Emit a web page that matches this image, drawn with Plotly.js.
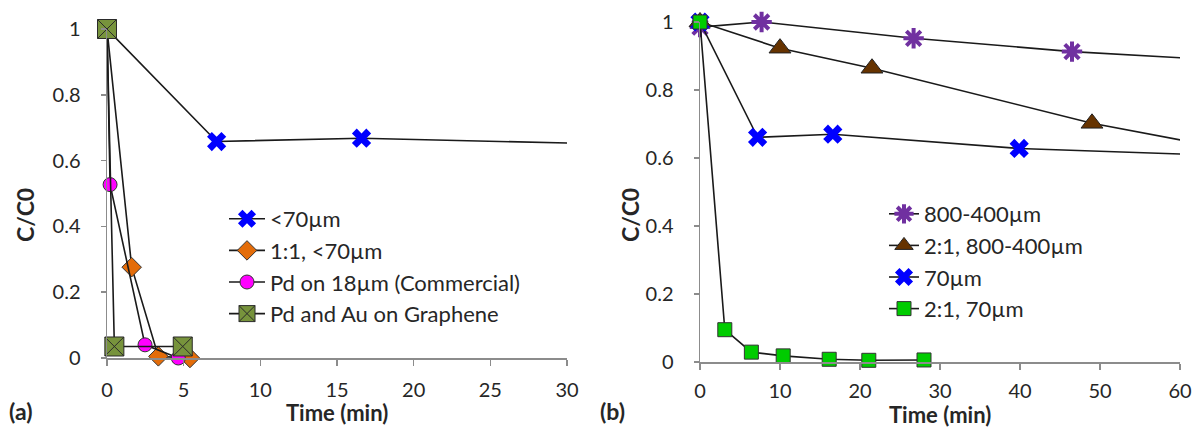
<!DOCTYPE html>
<html>
<head>
<meta charset="utf-8">
<script src="https://cdn.plot.ly/plotly-3.0.1.min.js"></script>
<style>html,body{margin:0;padding:0;background:#fff;}#chart{width:1195px;height:427px;}</style>
</head>
<body>
<div id="chart"></div>
<script>
// ---------- Panel (a) data ----------
const a_lt70_t   = [0, 7.15, 16.6, 39.9, 90];
const a_lt70_c   = [1, 0.658, 0.668, 0.628, 0.588];
const a_11_t     = [0, 1.61, 3.35, 5.41];
const a_11_c     = [1, 0.276, 0.005, 0.0];
const a_pd18_t   = [0, 0.2, 2.48, 4.65];
const a_pd18_c   = [1, 0.527, 0.04, 0.0];
const a_graph_t  = [0, 0.48, 4.94];
const a_graph_c  = [1, 0.035, 0.035];
const a_names    = ["<70µm", "1:1, <70µm", "Pd on 18µm (Commercial)", "Pd and Au on Graphene"];

// ---------- Panel (b) data ----------
const b_800_t    = [0, 7.7, 26.7, 46.5, 90];
const b_800_c    = [0.985, 1.0, 0.952, 0.913, 0.855];
const b_21_800_t = [0, 10.0, 21.5, 49.0, 90];
const b_21_800_c = [1.0, 0.923, 0.864, 0.702, 0.52];
const b_70_t     = [0, 7.2, 16.6, 39.9, 90];
const b_70_c     = [1.0, 0.661, 0.670, 0.628, 0.588];
const b_21_70_t  = [0, 3.1, 6.42, 10.4, 16.15, 21.1, 28.0];
const b_21_70_c  = [1.0, 0.095, 0.029, 0.018, 0.008, 0.005, 0.006];
const b_names    = ["800-400µm", "2:1, 800-400µm", "70µm", "2:1, 70µm"];

const xTicksA = [0, 5, 10, 15, 20, 25, 30];
const xTicksB = [0, 10, 20, 30, 40, 50, 60];
const yTicks  = [0, 0.2, 0.4, 0.6, 0.8, 1];
const yTickText = ["0", "0.2", "0.4", "0.6", "0.8", "1"];

const FONT = "Lato, 'Open Sans', sans-serif";
const TXT = "#262626";
const LINE = {color: "#1a1a1a", width: 1.6};

function tr(x, y, name, xa, ya, legend, marker) {
  return {x: x, y: y, name: name, type: "scatter", mode: "lines+markers",
          xaxis: xa, yaxis: ya, legend: legend, line: LINE, marker: marker,
          cliponaxis: false};
}

const data = [
  tr(a_lt70_t, a_lt70_c, a_names[0], "x", "y", "legend",
     {symbol: "x", size: 17, color: "#0000ff", line: {width: 0}}),
  tr(a_11_t, a_11_c, a_names[1], "x", "y", "legend",
     {symbol: "diamond", size: 15, color: "#e36c09", line: {color: "#333", width: 1}}),
  tr(a_pd18_t, a_pd18_c, a_names[2], "x", "y", "legend",
     {symbol: "circle", size: 14, color: "#ff00ff", line: {color: "#333", width: 1}}),
  tr(a_graph_t, a_graph_c, a_names[3], "x", "y", "legend",
     {symbol: "square-x", size: 19, color: "#77933c", line: {color: "#2a2a2a", width: 1}}),

  tr(b_800_t, b_800_c, b_names[0], "x2", "y2", "legend2",
     {symbol: "asterisk-open", size: 17, color: "#7030a0", line: {color: "#7030a0", width: 4}}),
  tr(b_21_800_t, b_21_800_c, b_names[1], "x2", "y2", "legend2",
     {symbol: "triangle-up", size: 19, color: "#663300", line: {color: "#222", width: 1}}),
  tr(b_70_t, b_70_c, b_names[2], "x2", "y2", "legend2",
     {symbol: "x", size: 17, color: "#0000ff", line: {width: 0}}),
  tr(b_21_70_t, b_21_70_c, b_names[3], "x2", "y2", "legend2",
     {symbol: "square", size: 14, color: "#00cc00", line: {color: "#333", width: 1}})
];

const W = 1195, H = 427;
const xAxisCommon = {showgrid: false, zeroline: false, showline: true, linecolor: "#8c8c8c", linewidth: 1.5,
  ticks: "outside", ticklen: 6, tickcolor: "#8c8c8c", tickwidth: 1.5, ticklabelstandoff: 7,
  tickfont: {family: FONT, size: 20, color: TXT}, tickmode: "array", fixedrange: true};
const yAxisCommon = Object.assign({}, xAxisCommon, {tickvals: yTicks, ticktext: yTickText, range: [0, 1],
  ticklen: 5, ticklabelstandoff: 16});

const legendCommon = {xanchor: "left", yanchor: "top", bgcolor: "rgba(0,0,0,0)",
  font: {family: FONT, size: 22, color: TXT}, tracegroupgap: 0};

function ann(text, x, y, size, angle) {
  return {text: text, x: x/W, y: 1-y/H, xref: "paper", yref: "paper", showarrow: false,
          xanchor: "center", yanchor: "middle", textangle: angle || 0,
          font: {family: FONT, size: size, color: TXT}};
}

const layout = {
  width: W, height: H,
  margin: {l: 0, r: 0, t: 0, b: 0},
  paper_bgcolor: "#fff", plot_bgcolor: "#fff",
  font: {family: FONT, color: TXT},
  xaxis: Object.assign({}, xAxisCommon, {domain: [107/W, 567/W], range: [0, 30], tickvals: xTicksA, anchor: "y"}),
  yaxis: Object.assign({}, yAxisCommon, {domain: [1-358/H, 1-29/H], anchor: "x"}),
  xaxis2: Object.assign({}, xAxisCommon, {domain: [700/W, 1180/W], range: [0, 60], tickvals: xTicksB, anchor: "y2",
    ticklabelstandoff: 4}),
  yaxis2: Object.assign({}, yAxisCommon, {domain: [1-362/H, 1-22/H], anchor: "x2"}),
  showlegend: true,
  legend: Object.assign({}, legendCommon, {x: 224/W, y: 1-198/H, itemwidth: 36}),
  legend2: Object.assign({}, legendCommon, {x: 884/W, y: 1-193/H, itemwidth: 30}),
  annotations: [
    ann("<b>C/C0</b>", 25, 215, 23, -90),
    ann("<b>C/C0</b>", 630, 215, 23, -90),
    ann("<b>Time (min)</b>", 337, 412, 22),
    ann("<b>Time (min)</b>", 940, 414, 22),
    ann("<b>(a)</b>", 20, 411, 23),
    ann("<b>(b)</b>", 612, 411, 23)
  ]
};

Plotly.newPlot("chart", data, layout, {displayModeBar: false, staticPlot: true});
</script>
</body>
</html>
